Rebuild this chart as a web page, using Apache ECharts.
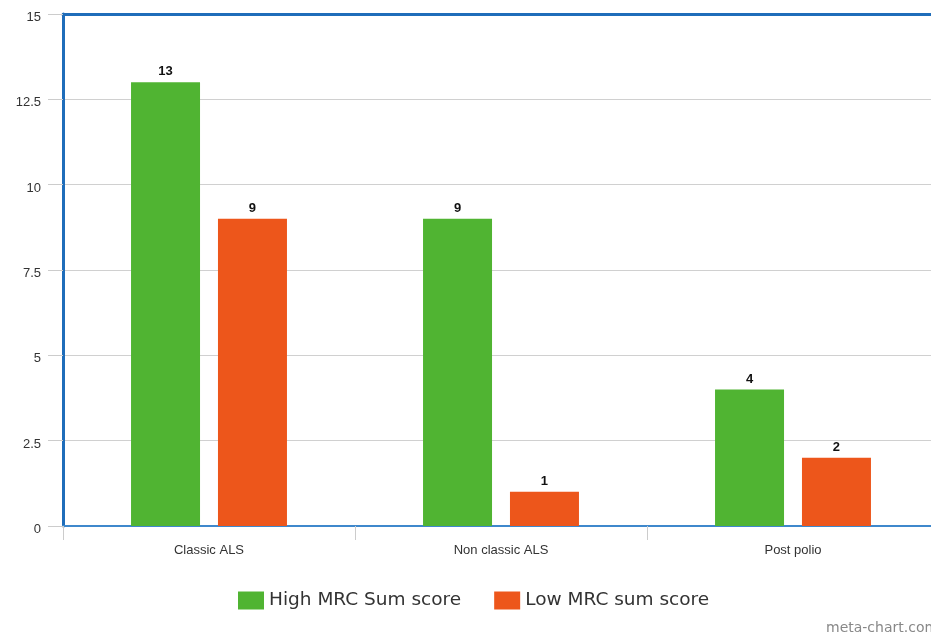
<!DOCTYPE html>
<html>
<head>
<meta charset="utf-8">
<script src="https://cdn.jsdelivr.net/npm/echarts@6/dist/echarts.min.js"></script>
<style>
  html, body { margin: 0; padding: 0; background: #fff; overflow: hidden; width: 931px; height: 637px; }
  #chart { width: 945px; height: 637px; }
</style>
</head>
<body>
<div id="chart"></div>
<script>
// Patient groups and MRC sum score counts
const categories = ['Classic ALS', 'Non classic ALS', 'Post polio'];
const highMrc = [13, 9, 4];
const lowMrc = [9, 1, 2];
const seriesNames = ['High MRC Sum score', 'Low MRC sum score'];

const chart = echarts.init(document.getElementById('chart'), null, { renderer: 'canvas' });

const labelStyle = {
  show: true,
  position: 'top',
  distance: 4,
  color: '#111',
  fontWeight: 'bold',
  fontSize: 13,
  fontFamily: 'Liberation Sans, Arial, sans-serif'
};

chart.setOption({
  animation: false,
  backgroundColor: '#fff',
  grid: { left: 63, top: 14, width: 876, height: 512, containLabel: false },
  legend: {
    left: 233,
    top: 586,
    itemWidth: 26,
    itemHeight: 18,
    itemGap: 33,
    icon: 'rect',
    textStyle: { fontSize: 18.5, color: '#333', fontFamily: 'DejaVu Sans, sans-serif' },
    data: seriesNames
  },
  xAxis: [
    {
      type: 'category',
      data: categories,
      position: 'bottom',
      axisLine: { show: true, lineStyle: { color: '#3f88cc', width: 2 } },
      axisTick: { show: true, length: 14, lineStyle: { color: '#cccccc', width: 1 } },
      axisLabel: { color: '#333', fontSize: 13, margin: 18, fontFamily: 'Liberation Sans, Arial, sans-serif' },
      splitLine: { show: false }
    },
    {
      type: 'category',
      data: categories,
      position: 'top',
      axisLine: { show: true, lineStyle: { color: '#1f6dba', width: 3 } },
      axisTick: { show: false },
      axisLabel: { show: false },
      splitLine: { show: false }
    }
  ],
  yAxis: {
    type: 'value',
    min: 0,
    max: 15,
    interval: 2.5,
    axisLine: { show: true, lineStyle: { color: '#1f6dba', width: 3 } },
    axisTick: { show: true, length: 15, lineStyle: { color: '#cccccc', width: 1 } },
    axisLabel: {
      color: '#333', fontSize: 13, margin: 22,
      verticalAlign: 'top', lineHeight: 7,
      fontFamily: 'Liberation Sans, Arial, sans-serif'
    },
    splitLine: { show: true, lineStyle: { color: '#d0d0d0', width: 1 } }
  },
  series: [
    {
      name: seriesNames[0],
      type: 'bar',
      data: highMrc,
      barWidth: 69,
      barGap: '26%',
      itemStyle: { color: '#50b432' },
      label: labelStyle
    },
    {
      name: seriesNames[1],
      type: 'bar',
      data: lowMrc,
      barWidth: 69,
      barGap: '26%',
      itemStyle: { color: '#ed561b' },
      label: labelStyle
    }
  ],
  graphic: [
    {
      type: 'text',
      left: 826,
      top: 621,
      style: { text: 'meta-chart.com', fill: '#888', fontSize: 14, fontFamily: 'DejaVu Sans, sans-serif' }
    }
  ]
});
</script>
</body>
</html>
